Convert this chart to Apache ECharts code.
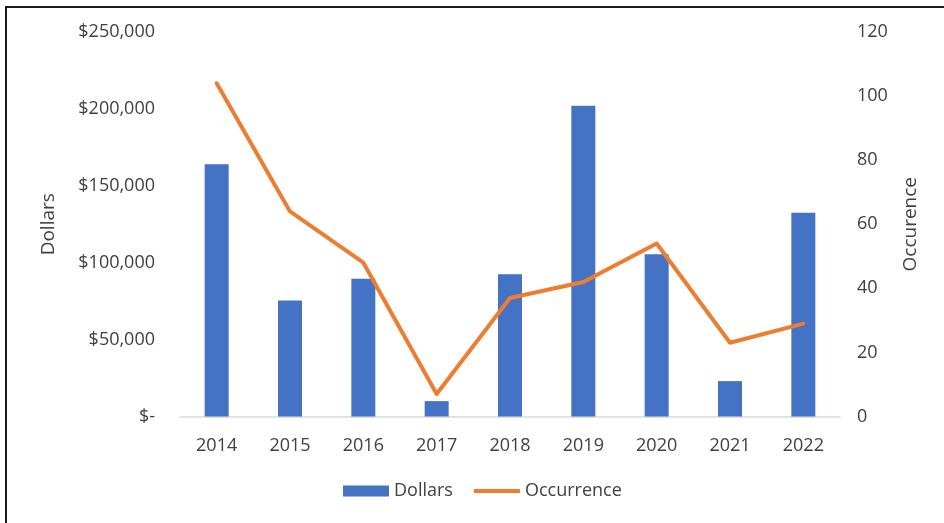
<!DOCTYPE html>
<html>
<head>
<meta charset="utf-8">
<script src="https://cdn.jsdelivr.net/npm/echarts@6/dist/echarts.min.js"></script>
<style>
  html, body { margin: 0; padding: 0; background: #fff; }
  #chart { width: 944px; height: 523px; position: absolute; left: 0; top: 0; }
  #frame {
    position: absolute; left: 5px; top: 6px; right: 0; bottom: 0;
    border-top: 2px solid #1a1a1a; border-left: 2px solid #1a1a1a;
    pointer-events: none;
  }
</style>
</head>
<body>
<div id="chart"></div>
<div id="frame"></div>
<script>
// Yearly totals (left axis) and number of occurrences (right axis)
const years = ['2014', '2015', '2016', '2017', '2018', '2019', '2020', '2021', '2022'];
const dollars = [164000, 75500, 89500, 10000, 92500, 202000, 105500, 23000, 132500];
const occurrence = [104, 64, 48, 7, 37, 42, 54, 23, 29];

const FONT = '"Open Sans", "Noto Sans", sans-serif';
const TEXT = '#404040';

function dollarLabel(v) {
  if (v === 0) return '$-';
  return '$' + v.toLocaleString('en-US');
}

const chart = echarts.init(document.getElementById('chart'), null, { renderer: 'canvas' });
chart.setOption({
  animation: false,
  backgroundColor: 'transparent',
  textStyle: { fontFamily: FONT },
  grid: { left: 180, right: 104, top: 32, bottom: 106.5, outerBoundsMode: 'none' },
  legend: {
    left: 343,
    top: 482,
    padding: 0,
    itemGap: 21,
    itemWidth: 46,
    itemHeight: 11,
    symbolKeepAspect: true,
    textStyle: { fontFamily: FONT, fontSize: 18, color: TEXT, padding: [0, 0, 0, 0] },
    data: [
      { name: 'Dollars', icon: 'rect' },
      { name: 'Occurrence', icon: 'path://M0,0L46,0L46,4L0,4Z' }
    ]
  },
  xAxis: {
    type: 'category',
    data: years,
    axisLine: { show: true, lineStyle: { color: '#d9d9d9', width: 1.5 } },
    axisTick: { show: false },
    axisLabel: { color: TEXT, fontSize: 18, fontFamily: FONT, margin: 20 }
  },
  yAxis: [
    {
      type: 'value',
      min: 0, max: 250000, interval: 50000,
      name: 'Dollars',
      nameLocation: 'middle',
      nameGap: 122,
      nameTextStyle: { color: TEXT, fontSize: 19, fontFamily: FONT },
      splitLine: { show: false },
      axisLine: { show: false },
      axisTick: { show: false },
      axisLabel: { color: TEXT, fontSize: 18, fontFamily: FONT, margin: 25, formatter: dollarLabel }
    },
    {
      type: 'value',
      min: 0, max: 120, interval: 20,
      name: 'Occurence',
      nameLocation: 'middle',
      nameGap: 61,
      nameTextStyle: { color: TEXT, fontSize: 19, fontFamily: FONT },
      splitLine: { show: false },
      axisLine: { show: false },
      axisTick: { show: false },
      axisLabel: { color: TEXT, fontSize: 18, fontFamily: FONT, margin: 17 }
    }
  ],
  series: [
    {
      name: 'Dollars',
      type: 'bar',
      data: dollars,
      yAxisIndex: 0,
      barWidth: 24,
      itemStyle: { color: '#4472c4' }
    },
    {
      name: 'Occurrence',
      type: 'line',
      data: occurrence,
      yAxisIndex: 1,
      symbol: 'none',
      lineStyle: { color: '#ed7d31', width: 4, join: 'round', cap: 'round' },
      itemStyle: { color: '#ed7d31' }
    }
  ]
});
</script>
</body>
</html>
